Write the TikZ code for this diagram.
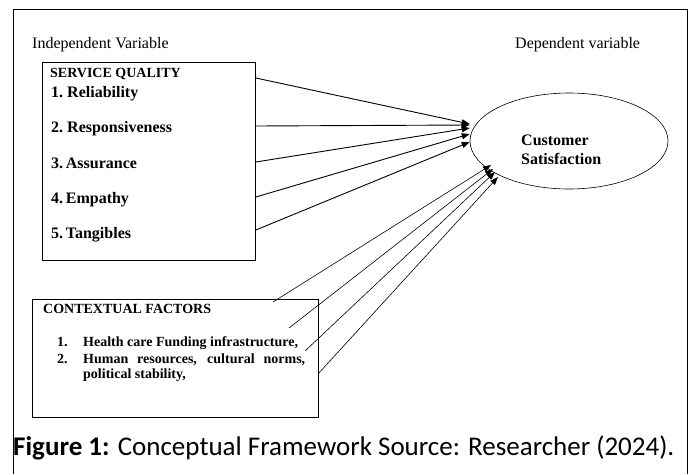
\documentclass[tikz,border=0pt]{standalone}
\usepackage{fontspec}
\setmainfont{Liberation Serif}
\newfontfamily\capfont{Carlito}
\usetikzlibrary{arrows.meta, shapes.geometric}

\begin{document}
\begin{tikzpicture}[x=1pt, y=-1pt,
        every node/.style={inner sep=0pt, font=\fontsize{16}{19}\selectfont},
        varbox/.style={draw, rectangle, line width=0.8pt, anchor=north west},
        label/.style={anchor=base west},
        item/.style={anchor=base west, font=\bfseries\fontsize{16}{19}\selectfont},
        head/.style={anchor=base west, font=\bfseries\fontsize{14}{17}\selectfont},
        link/.style={-{Triangle[length=8pt, width=6pt]}, line width=0.9pt},
        thinlink/.style={-{Triangle[length=8pt, width=6pt]}, line width=0.6pt}
    ]
    \useasboundingbox (0,0) rectangle (690,474);
    % Frame
    \draw [line width=0.8pt] (13,474) -- (13,9) -- (687,9) -- (687,474);

    % Headings
    \node (indep) [label] at (32,48) {Independent Variable};
    \node (dep) [label] at (515,48) {Dependent variable};

    % Service quality
    \node (sq) [varbox, minimum width=213pt, minimum height=198pt] at (42,62) {};
    \node (sqhead) [head] at (50,77) {SERVICE QUALITY};
    \node (rel) [item] at (51,97) {1.\ Reliability};
    \node (resp) [item] at (51,132) {2.\ Responsiveness};
    \node (assur) [item] at (51,168) {3.\,Assurance};
    \node (emp) [item] at (51,203) {4.\,Empathy};
    \node (tang) [item] at (51,238) {5.\,Tangibles};

    % Customer satisfaction
    \node (cs) [draw, ellipse, line width=0.6pt, minimum width=198pt, minimum height=96pt] at (569,141) {};
    \node (cstext) [anchor=north west, align=left, font=\bfseries\fontsize{16}{19}\selectfont] at (521,135) {Customer\\Satisfaction};

    % Contextual factors
    \node (cf) [varbox, minimum width=286pt, minimum height=118pt] at (32,299) {};
    \node (cfhead) [head] at (43,313) {CONTEXTUAL FACTORS};
    \node (num1) [head] at (57,346) {1.};
    \node (fund) [head] at (83,346) {Health care Funding infrastructure,};
    \node (num2) [head] at (57,363) {2.};
    \node (human) [head] at (83,363) {\makebox[222pt][s]{Human resources, cultural norms,}};
    \node (polit) [head] at (83,378) {political stability,};

    % Caption
    \node (caption) [label, font=\capfont\fontsize{27}{32}\selectfont] at (13,455) {\textbf{Figure 1:} Conceptual Framework Source: Researcher (2024).};

    % Arrows
    \foreach \y/\ty in {78/124, 126/125, 162/128, 197/134, 230/142}
        \draw [link] (sq.east |- 0,\y) -- (cs.west |- 0,\ty);

    \coordinate (f1) at (273,302);
    \coordinate (f2) at (289,328);
    \coordinate (f3) at (305,351);
    \coordinate (f4) at (318,374);
    \coordinate (c1) at (491,165);
    \coordinate (c2) at (493,169);
    \coordinate (c3) at (495,172);
    \coordinate (c4) at (498,177);
    \foreach \i in {1,...,4}
        \draw [thinlink] (f\i) -- (c\i);
\end{tikzpicture}
\end{document}
